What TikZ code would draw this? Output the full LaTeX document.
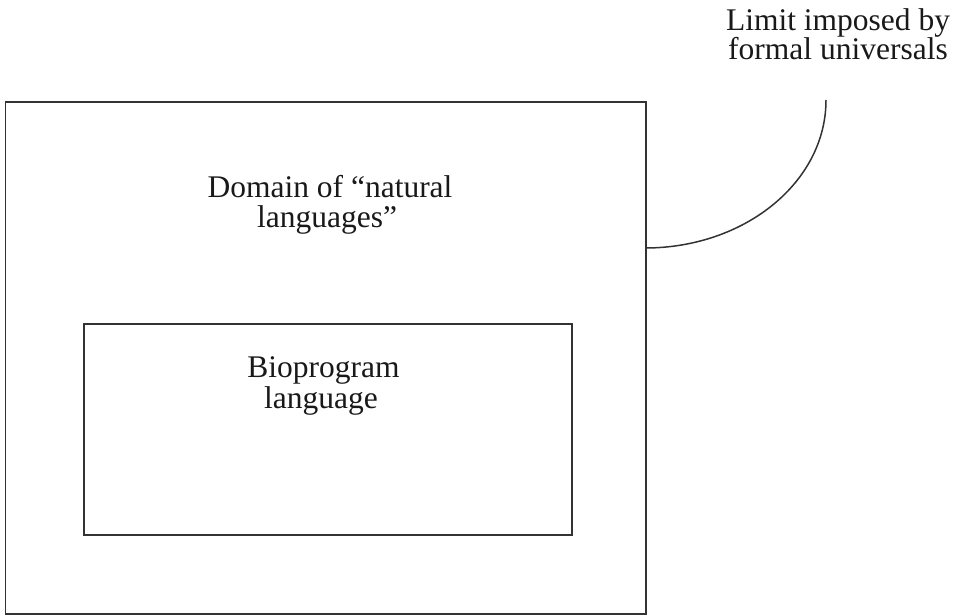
\documentclass[tikz,border=0pt]{standalone}
\usepackage{fontspec}
\setmainfont{Liberation Serif}
\begin{document}
\begin{tikzpicture}[x=1pt,y=-1pt,
  box/.style={draw=black!80, line width=1.9pt, inner sep=0pt, anchor=north west},
  lbl/.style={inner sep=0pt, anchor=base, text=black!90, font=\fontsize{31.5}{31.5}\selectfont},
  hookline/.style={draw=black!80, line width=1.5pt}]
\useasboundingbox (0,0) rectangle (953,615);
\node[box, minimum width=640.5pt, minimum height=512pt] (outer) at (4.5,101) {};
\node[box, minimum width=488pt, minimum height=211pt] (inner) at (83,323) {};
\node[lbl] (dom1) at (330,197) {Domain of “natural};
\node[lbl] (dom2) at (327,227) {languages”};
\node[lbl] (bio1) at (323.5,377) {Bioprogram};
\node[lbl] (bio2) at (321,408) {language};
\node[lbl] (lim1) at (838,31) {Limit imposed by};
\node[lbl] (lim2) at (838,60) {formal universals};
\coordinate (hook) at (645,248);
\coordinate (limtop) at (826,100);
\draw[hookline] (hook) .. controls (745,248) and (826,182) .. (limtop);
\end{tikzpicture}
\end{document}
